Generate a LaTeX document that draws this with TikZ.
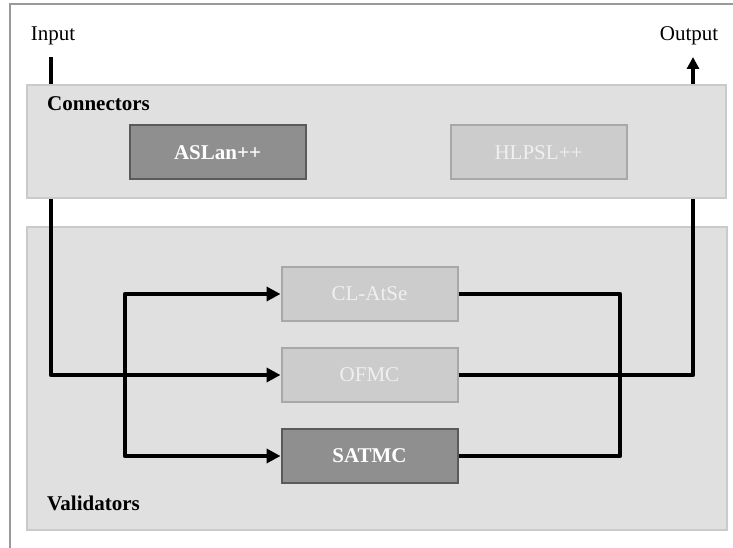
\documentclass[tikz,border=0pt]{standalone}
\usepackage{fontspec}
\setmainfont{Liberation Serif}
\usetikzlibrary{arrows.meta}

\definecolor{panelfill}{HTML}{E0E0E0}
\definecolor{panelline}{HTML}{CACACA}
\definecolor{darkfill}{HTML}{8F8F8F}
\definecolor{darkline}{HTML}{5A5A5A}
\definecolor{lightfill}{HTML}{CCCCCC}
\definecolor{lightline}{HTML}{A8A8A8}
\definecolor{frameline}{HTML}{999999}

\tikzset{
  panel/.style={draw=panelline, fill=panelfill, line width=1.5pt},
  activebox/.style={draw=darkline, fill=darkfill, line width=2pt,
    minimum width=176pt, minimum height=54pt, inner sep=0pt,
    text=white, font=\fontsize{21}{24}\selectfont\bfseries},
  idlebox/.style={draw=lightline, fill=lightfill, line width=2pt,
    minimum width=176pt, minimum height=54pt, inner sep=0pt,
    text=white!94!black, font=\fontsize{21}{24}\selectfont},
  paneltitle/.style={anchor=west, inner sep=0pt, font=\fontsize{21}{24}\selectfont\bfseries},
  ioText/.style={inner sep=0pt, font=\fontsize{21}{24}\selectfont},
  flow/.style={line width=4.3pt, line join=round},
  flowarrow/.style={flow, -{Triangle[length=14pt,width=14pt]}},
  outarrow/.style={flow, -{Triangle[length=12pt,width=12pt]}},
}

\begin{document}
\begin{tikzpicture}[x=1pt, y=-1pt]
  \useasboundingbox (0,0) rectangle (733,548);

  % outer frame (right and bottom edges fall outside the page)
  \draw[frameline, line width=2pt] (10,560) -- (10,4) -- (745,4);

  % validators panel
  \draw[panel] (27,227) rectangle (727,530);
  \node[paneltitle] at (47,503) {Validators};

  % terminals
  \node[ioText] (in) at (53,36) {Input};
  \node[ioText] (out) at (689,36) {Output};
  \coordinate (inTop) at (51,57);
  \coordinate (outTop) at (693,57);

  % validator tools
  \node[idlebox]   (clatse) at (369.5,294) {CL-AtSe};
  \node[idlebox]   (ofmc)   at (369.5,375) {OFMC};
  \node[activebox] (satmc)  at (369.5,456) {SATMC};

  % input feed and fan-out
  \draw[flowarrow] (inTop) |- (ofmc.west);
  \coordinate (split) at (125,375);
  \draw[flowarrow] (split) |- (clatse.west);
  \draw[flowarrow] (split) |- (satmc.west);

  % results
  \draw[flow] (clatse.east) -| (620,456) -- (satmc.east);
  \draw[outarrow] (ofmc.east) -| (outTop);

  % connectors panel, laid over the vertical feeds
  \draw[panel] (27,85) rectangle (726,198);
  \node[paneltitle] at (47,104) {Connectors};
  \node[activebox] (aslan) at (217.5,152.5) {ASLan++};
  \node[idlebox]   (hlpsl) at (538.5,152.5) {HLPSL++};
\end{tikzpicture}
\end{document}
